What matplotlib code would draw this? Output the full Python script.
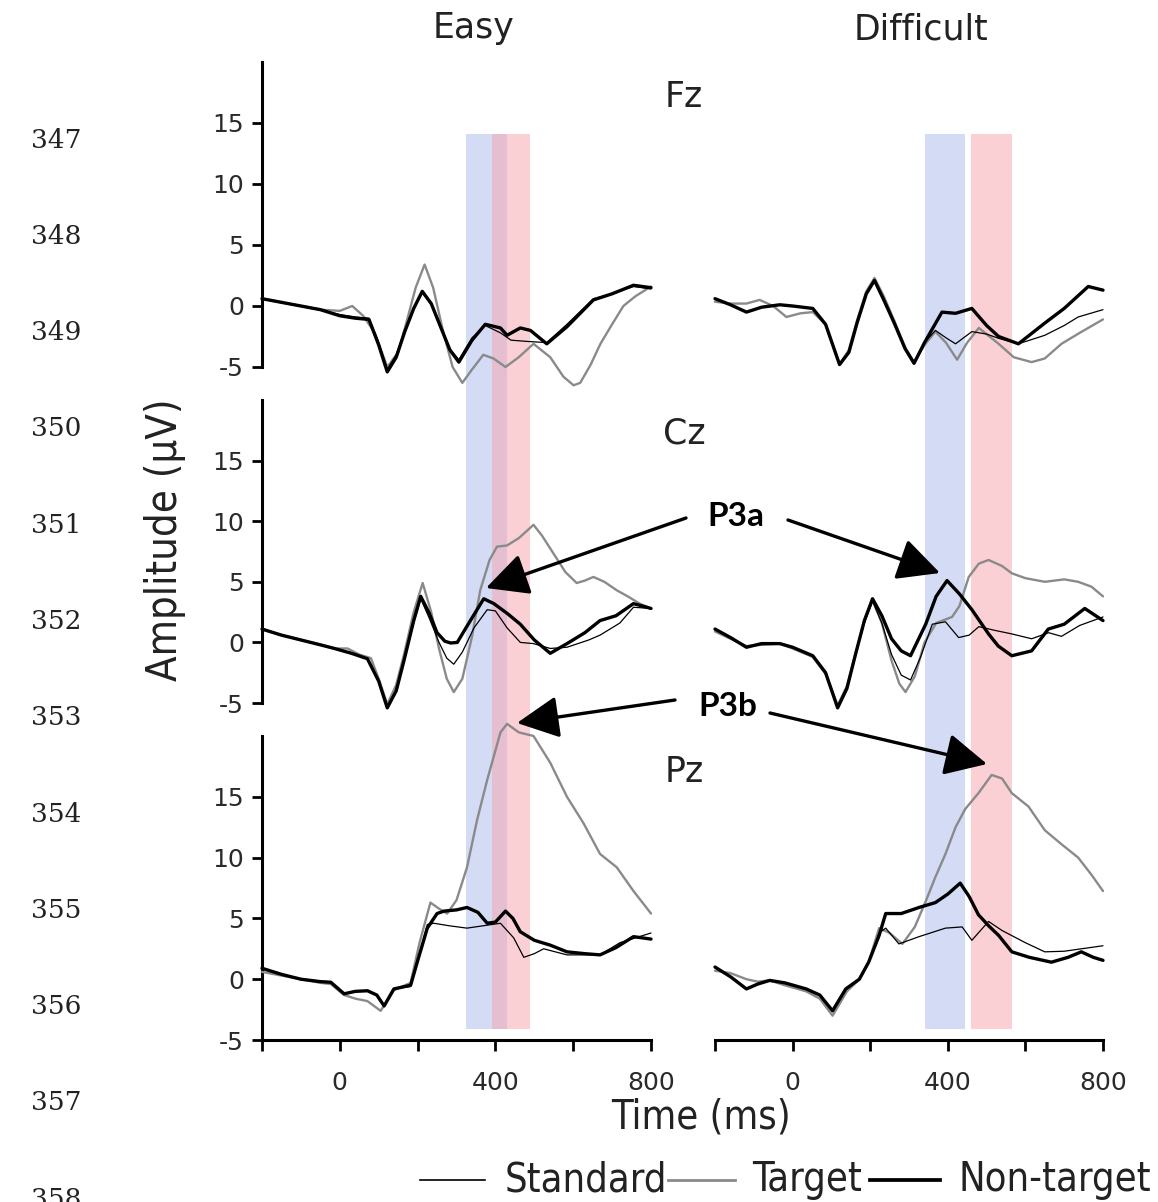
import matplotlib
matplotlib.use("Agg")
import matplotlib.pyplot as plt
from matplotlib.patches import Rectangle, FancyArrowPatch
from matplotlib.lines import Line2D
from matplotlib.transforms import blended_transform_factory

# ---------------- data (time in ms, amplitude in µV) ----------------
conditions = ["Easy", "Difficult"]
electrodes = ["Fz", "Cz", "Pz"]
series_names = ["Standard", "Target", "Non-target"]
xtick_vals = [-200, 0, 200, 400, 600, 800]
xtick_labels = ["", "0", "", "400", "", "800"]
ytick_vals = [-5, 0, 5, 10, 15]
line_numbers = [347, 348, 349, 350, 351, 352, 353, 354, 355, 356, 357, 358]

# analysis windows (ms): P3a (blue) and P3b (red)
easy_p3a_win = [325, 430]
easy_p3b_win = [390, 490]
diff_p3a_win = [340, 445]
diff_p3b_win = [460, 565]

# ---- Fz, Easy
fz_easy_nt_t = [-200,-150,-100,-50,0,40,75,100,122,145,167,190,212,235,259,283,306,340,374,413,430,464,490,532,584,652,700,755,800]
fz_easy_nt_v = [0.6,0.3,0.0,-0.3,-0.8,-1.0,-1.1,-3.2,-5.4,-4.2,-2.1,-0.2,1.2,0.2,-1.7,-3.6,-4.6,-2.8,-1.5,-1.8,-2.4,-1.8,-2.0,-3.1,-1.7,0.5,1.0,1.7,1.5]
fz_easy_std_t = [-200,-150,-100,-50,0,40,75,100,122,145,167,190,212,235,259,283,306,340,374,413,440,480,532,584,652,700,755,800]
fz_easy_std_v = [0.6,0.3,0.0,-0.3,-0.7,-0.9,-1.0,-3.0,-5.2,-4.0,-2.0,-0.2,1.1,0.1,-1.8,-3.5,-4.4,-2.6,-1.6,-2.2,-2.8,-2.9,-3.0,-1.5,0.6,1.0,1.6,1.4]
fz_easy_tg_t = [-200,-150,-100,-50,0,32,60,90,122,150,170,195,218,240,265,290,315,340,369,395,426,460,498,541,575,601,618,645,670,700,729,760,800]
fz_easy_tg_v = [0.6,0.3,0.0,-0.3,-0.4,0.0,-0.8,-2.2,-5.0,-3.8,-1.5,1.5,3.4,1.5,-2.0,-5.0,-6.3,-5.2,-4.0,-4.3,-5.0,-4.2,-3.1,-4.2,-5.8,-6.5,-6.3,-4.8,-3.1,-1.5,0.0,0.8,1.6]

# ---- Fz, Difficult
fz_diff_nt_t = [-200,-160,-119,-80,-33,0,52,85,121,145,166,190,211,235,262,290,313,340,385,420,462,500,531,582,650,700,762,800]
fz_diff_nt_v = [0.6,0.1,-0.5,-0.1,0.1,0.0,-0.2,-1.5,-4.8,-3.8,-1.4,1.0,2.1,0.5,-1.4,-3.5,-4.7,-3.0,-0.5,-0.6,-0.2,-1.6,-2.5,-3.1,-1.4,-0.2,1.6,1.3]
fz_diff_std_t = [-200,-160,-119,-80,-33,0,52,85,121,145,166,190,211,235,262,290,313,340,368,395,420,462,500,531,582,650,700,736,800]
fz_diff_std_v = [0.6,0.1,-0.5,-0.1,0.1,0.0,-0.2,-1.5,-4.8,-3.8,-1.4,1.0,2.1,0.5,-1.4,-3.5,-4.6,-3.0,-2.0,-2.6,-3.1,-2.1,-2.3,-2.65,-3.1,-2.4,-1.6,-0.9,-0.3]
fz_diff_tg_t = [-200,-160,-119,-85,-50,-16,20,52,85,121,145,166,190,211,235,262,290,313,340,368,395,424,450,480,531,570,616,650,693,740,800]
fz_diff_tg_v = [0.35,0.2,0.2,0.5,0.0,-0.9,-0.6,-0.5,-1.5,-4.8,-3.6,-1.2,1.2,2.3,0.8,-1.2,-3.4,-4.6,-3.2,-2.1,-3.0,-4.4,-3.0,-1.8,-3.1,-4.2,-4.6,-4.3,-3.1,-2.2,-1.1]

# ---- Cz, Easy
cz_easy_nt_t = [-200,-150,-100,-50,-14,30,71,100,122,145,165,190,208,230,250,270,285,302,330,370,396,430,464,500,541,584,630,669,710,755,800]
cz_easy_nt_v = [1.1,0.6,0.2,-0.2,-0.5,-0.9,-1.35,-3.2,-5.4,-4.0,-1.5,1.8,3.8,2.4,0.8,0.1,-0.05,0.0,1.5,3.6,3.2,2.4,1.5,0.2,-0.9,-0.1,0.8,1.8,2.2,3.2,2.8]
cz_easy_std_t = [-200,-150,-100,-50,-14,30,71,100,122,145,165,190,208,230,255,275,293,315,345,379,400,430,464,498,541,584,640,669,720,755,800]
cz_easy_std_v = [1.1,0.6,0.2,-0.2,-0.5,-0.9,-1.35,-3.2,-5.4,-4.0,-1.5,1.6,3.6,2.0,0.0,-1.3,-1.8,-0.8,1.2,2.7,2.6,1.2,0.0,-0.1,-0.5,-0.4,0.2,0.6,1.6,2.9,2.8]
cz_easy_tg_t = [-200,-150,-100,-50,-14,20,50,80,100,122,145,165,190,213,235,255,275,293,315,340,361,385,404,430,460,498,520,550,580,609,630,652,680,712,740,771,800]
cz_easy_tg_v = [1.1,0.6,0.2,-0.2,-0.5,-0.5,-1.0,-1.3,-3.0,-5.1,-3.5,-1.0,2.5,4.9,2.5,-0.5,-3.0,-4.1,-3.0,0.5,4.3,6.8,7.9,8.0,8.6,9.7,8.8,7.3,5.8,4.9,5.1,5.4,5.0,4.3,3.8,3.2,2.8]

# ---- Cz, Difficult
cz_diff_nt_t = [-200,-160,-119,-80,-33,0,52,85,116,140,162,185,206,230,255,280,304,343,370,398,430,462,505,530,565,616,659,700,753,800]
cz_diff_nt_v = [1.1,0.4,-0.4,-0.1,-0.1,-0.4,-1.1,-2.5,-5.4,-3.8,-1.0,1.8,3.6,2.2,0.3,-0.7,-1.1,1.5,3.8,5.1,4.0,2.7,0.7,-0.3,-1.1,-0.7,1.1,1.5,2.8,1.8]
cz_diff_std_t = [-200,-160,-119,-80,-33,0,52,85,116,140,162,185,206,230,255,280,304,330,360,394,428,455,480,520,565,616,660,693,740,800]
cz_diff_std_v = [1.1,0.4,-0.4,-0.1,-0.1,-0.4,-1.1,-2.5,-5.3,-3.7,-1.0,1.6,3.4,1.6,-1.0,-2.7,-3.1,-1.2,1.5,1.7,0.4,0.6,1.3,1.0,0.7,0.3,0.8,0.5,1.4,2.1]
cz_diff_tg_t = [-200,-160,-119,-80,-33,0,52,85,116,140,162,185,206,230,255,275,291,315,340,370,411,430,454,480,505,540,565,600,650,700,736,770,800]
cz_diff_tg_v = [0.9,0.3,-0.3,-0.2,-0.1,-0.5,-1.2,-2.6,-5.2,-3.6,-1.0,1.8,3.5,1.6,-1.5,-3.4,-4.1,-2.8,0.0,1.6,2.1,3.0,5.4,6.5,6.8,6.3,5.7,5.3,5.0,5.2,5.0,4.6,3.8]

# ---- Pz, Easy
pz_easy_nt_t = [-200,-150,-100,-50,-23,11,40,71,95,114,139,182,200,225,250,268,300,327,355,379,400,426,445,464,500,541,584,630,669,710,755,800]
pz_easy_nt_v = [0.9,0.4,0.0,-0.2,-0.25,-1.2,-1.0,-0.95,-1.3,-2.2,-0.8,-0.5,1.5,4.2,5.4,5.6,5.7,5.9,5.5,4.6,4.7,5.6,5.0,3.9,3.2,2.8,2.25,2.1,2.0,2.6,3.5,3.3]
pz_easy_std_t = [-200,-150,-100,-50,-23,11,40,71,95,114,139,182,200,225,242,280,327,370,413,447,473,500,524,584,669,720,800]
pz_easy_std_v = [0.9,0.4,0.0,-0.2,-0.25,-1.2,-1.0,-0.95,-1.3,-2.2,-0.8,-0.6,1.5,4.5,4.6,4.4,4.2,4.4,4.6,3.4,1.8,2.1,2.5,2.0,2.0,3.0,3.8]
pz_easy_tg_t = [-200,-150,-100,-50,-23,11,40,71,105,139,182,205,233,255,276,300,327,353,379,413,430,460,498,541,584,627,669,712,755,800]
pz_easy_tg_v = [0.6,0.3,0.0,-0.3,-0.4,-1.3,-1.6,-1.8,-2.6,-0.9,-0.3,3.0,6.3,5.8,5.4,6.5,9.2,13.1,16.4,20.3,21.0,20.3,20.0,17.8,15.0,12.8,10.3,9.2,7.25,5.4]

# ---- Pz, Difficult
pz_diff_nt_t = [-200,-160,-119,-90,-59,-20,35,70,103,137,172,196,223,240,280,326,368,400,432,455,479,505,531,565,610,667,710,744,775,800]
pz_diff_nt_v = [1.0,0.2,-0.8,-0.4,-0.1,-0.3,-0.8,-1.3,-2.6,-0.8,0.0,1.4,3.6,5.4,5.4,5.9,6.3,7.0,7.9,6.8,5.3,4.4,3.6,2.25,1.8,1.4,1.8,2.25,1.8,1.55]
pz_diff_std_t = [-200,-160,-119,-90,-59,-20,35,70,103,137,172,196,223,240,274,326,394,437,462,505,540,600,650,700,800]
pz_diff_std_v = [1.0,0.2,-0.8,-0.4,-0.1,-0.3,-0.8,-1.3,-2.6,-0.8,0.0,1.4,3.8,4.2,2.9,3.5,4.2,4.3,3.2,4.75,4.0,3.0,2.25,2.3,2.75]
pz_diff_tg_t = [-200,-160,-119,-90,-59,-20,35,70,103,140,172,196,223,250,283,315,343,368,394,420,445,479,513,540,565,608,650,693,736,770,800]
pz_diff_tg_v = [0.7,0.5,0.0,-0.2,-0.1,-0.5,-1.0,-1.6,-3.0,-1.0,0.0,1.4,4.2,3.8,2.9,4.3,6.4,8.4,10.3,12.5,14.0,15.3,16.8,16.5,15.3,14.2,12.25,11.1,10.0,8.6,7.25]

panel_data = {
    ("Fz", "Easy"): [(fz_easy_tg_t, fz_easy_tg_v), (fz_easy_std_t, fz_easy_std_v), (fz_easy_nt_t, fz_easy_nt_v)],
    ("Fz", "Difficult"): [(fz_diff_tg_t, fz_diff_tg_v), (fz_diff_std_t, fz_diff_std_v), (fz_diff_nt_t, fz_diff_nt_v)],
    ("Cz", "Easy"): [(cz_easy_tg_t, cz_easy_tg_v), (cz_easy_std_t, cz_easy_std_v), (cz_easy_nt_t, cz_easy_nt_v)],
    ("Cz", "Difficult"): [(cz_diff_tg_t, cz_diff_tg_v), (cz_diff_std_t, cz_diff_std_v), (cz_diff_nt_t, cz_diff_nt_v)],
    ("Pz", "Easy"): [(pz_easy_tg_t, pz_easy_tg_v), (pz_easy_std_t, pz_easy_std_v), (pz_easy_nt_t, pz_easy_nt_v)],
    ("Pz", "Difficult"): [(pz_diff_tg_t, pz_diff_tg_v), (pz_diff_std_t, pz_diff_std_v), (pz_diff_nt_t, pz_diff_nt_v)],
}

# ---------------- styling ----------------
W, H = 1158, 1202
fig = plt.figure(figsize=(W / 100, H / 100), dpi=100)
fig.patch.set_facecolor("white")

def fx(px):
    return px / W

def fy(py):
    return 1 - py / H

NARROW = dict(family="DejaVu Sans", fontstretch="condensed")
TICK_COLOR = "#2a2a2a"

styles = [
    dict(color="#8a8a8a", lw=1.7, zorder=3),   # Target
    dict(color="black", lw=0.9, zorder=4),     # Standard
    dict(color="black", lw=2.4, zorder=5),     # Non-target
]

col_x = {"Easy": (262, 651), "Difficult": (715, 1103)}
row_y = {"Fz": (62, 367), "Cz": (400, 703), "Pz": (736, 1040)}

axes = {}
for el in electrodes:
    for cond in conditions:
        x0, x1 = col_x[cond]
        y0, y1 = row_y[el]
        ax = fig.add_axes([fx(x0), fy(y1), (x1 - x0) / W, (y1 - y0) / H])
        ax.set_facecolor("none")
        ax.set_xlim(-200, 800)
        ax.set_ylim(-5, 20)
        for s in ["top", "right"]:
            ax.spines[s].set_visible(False)
        if cond == "Easy":
            ax.spines["left"].set_linewidth(2.2)
            ax.set_yticks(ytick_vals)
            ax.set_yticklabels([str(v) for v in ytick_vals])
            ax.tick_params(axis="y", direction="out", length=7, width=2,
                           labelsize=18, labelcolor=TICK_COLOR, pad=6)
        else:
            ax.spines["left"].set_visible(False)
            ax.set_yticks([])
        if el == "Pz":
            ax.spines["bottom"].set_linewidth(2.2)
            ax.set_xticks(xtick_vals)
            ax.set_xticklabels(xtick_labels)
            ax.tick_params(axis="x", direction="out", length=8, width=2,
                           labelsize=18, labelcolor=TICK_COLOR, pad=14)
        else:
            ax.spines["bottom"].set_visible(False)
            ax.set_xticks([])
        for (t, v), st in zip(panel_data[(el, cond)], styles):
            ax.plot(t, v, solid_joinstyle="round", solid_capstyle="round",
                    clip_on=False, **st)
        axes[(el, cond)] = ax

# shaded windows spanning all three rows
band_top, band_bot = fy(134), fy(1029)
for cond, wins in [("Easy", [(easy_p3a_win, "#a9bbea"), (easy_p3b_win, "#f7a3ac")]),
                   ("Difficult", [(diff_p3a_win, "#a9bbea"), (diff_p3b_win, "#f7a3ac")])]:
    trans = blended_transform_factory(axes[("Pz", cond)].transData, fig.transFigure)
    for (a, b), c in wins:
        r = Rectangle((a, band_bot), b - a, band_top - band_bot, transform=trans,
                      facecolor=c, alpha=0.5, edgecolor="none", zorder=-1)
        fig.add_artist(r)

# titles and electrode labels
fig.text(fx(474), fy(28), "Easy", ha="center", va="center", fontsize=25, color="#222")
fig.text(fx(921), fy(30), "Difficult", ha="center", va="center", fontsize=25, color="#222")
for el, py in [("Fz", 97), ("Cz", 433), ("Pz", 772)]:
    fig.text(fx(684), fy(py), el, ha="center", va="center", fontsize=25, color="#222")

# axis labels
fig.text(fx(165), fy(540), "Amplitude (µV)", rotation=90, ha="center", va="center",
         fontsize=30, color="#222", **NARROW)
fig.text(fx(701), fy(1118), "Time (ms)", ha="center", va="center",
         fontsize=28.5, color="#222", **NARROW)

# P3a / P3b annotations
fig.text(fx(736), fy(516), "P3a", ha="center", va="center", fontsize=24,
         fontweight="bold", family=["Lato", "DejaVu Sans"], color="black")
fig.text(fx(728), fy(706), "P3b", ha="center", va="center", fontsize=24,
         fontweight="bold", family=["Lato", "DejaVu Sans"], color="black")
arrows = [((686, 518), (486, 588)), ((788, 520), (940, 573)),
          ((675, 700), (517, 723)), ((770, 713), (987, 764))]
for (sx, sy), (ex, ey) in arrows:
    fig.add_artist(FancyArrowPatch(
        (fx(sx), fy(sy)), (fx(ex), fy(ey)), transform=fig.transFigure,
        arrowstyle="-|>,head_length=1.3,head_width=0.65", mutation_scale=20,
        lw=2.4, color="black", shrinkA=0, shrinkB=0, zorder=10))

# legend (manual)
leg_y = fy(1180)
leg_items = [((420, 485), styles[1], 505, series_names[0]),
             ((668, 735), styles[0], 752, series_names[1]),
             ((870, 940), styles[2], 958, series_names[2])]
for (lx0, lx1), st, tx, label in leg_items:
    fig.add_artist(Line2D([fx(lx0), fx(lx1)], [leg_y, leg_y], transform=fig.transFigure,
                          color=st["color"], lw=st["lw"] + 0.3))
    fig.text(fx(tx), leg_y, label, ha="left", va="center", fontsize=28.5,
             color="#222", **NARROW)

# page line numbers on the left margin
for i, n in enumerate(line_numbers):
    fig.text(fx(56), fy(140 + i * 96.3), str(n), ha="center", va="center",
             fontsize=19, family="DejaVu Serif", color="#222")

fig.savefig("out.png", dpi=100)
